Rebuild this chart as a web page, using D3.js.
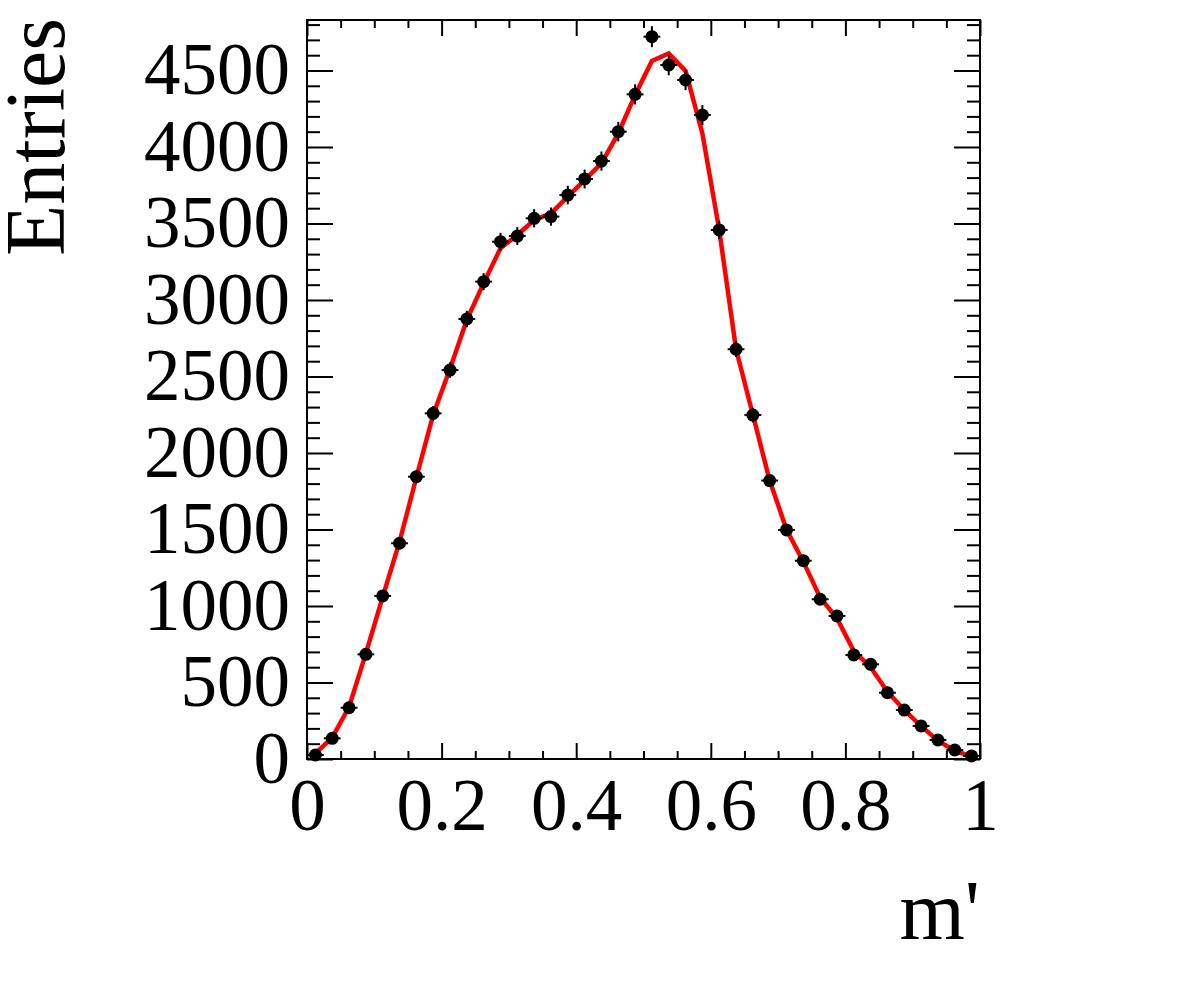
<!DOCTYPE html>
<meta charset="utf-8">
<style>
body { margin: 0; background: #fff; }
svg { display: block; }
.axis text { font-family: "Liberation Serif", "Times New Roman", serif; font-size: 73px; fill: #000; }
.axis line { stroke: #000; stroke-width: 2; }
.axis path { display: none; }
.title { font-family: "Liberation Serif", "Times New Roman", serif; font-size: 84px; fill: #000; }
</style>
<body></body>
<script src="https://cdn.jsdelivr.net/npm/d3@7"></script>
<script>

// histogram: 40 bins of m' in [0,1]
var binWidth = 0.025;
var counts = [26, 135, 335, 684, 1066, 1410, 1845, 2259, 2542, 2876,
              3120, 3381, 3418, 3534, 3545, 3686, 3791, 3908, 4100, 4344,
              4721, 4536, 4438, 4209, 3458, 2678, 2248, 1820, 1497, 1296,
              1044, 935, 680, 619, 433, 320, 216, 124, 59, 20];
// fitted model (red curve), one value per bin
var model = [37, 140, 340, 690, 1060, 1420, 1840, 2250, 2550, 2870,
             3110, 3338, 3425, 3523, 3567, 3675, 3784, 3893, 4089, 4340,
             4562, 4612, 4497, 4089, 3458, 2680, 2250, 1820, 1500, 1290,
             1055, 920, 705, 600, 440, 320, 215, 120, 55, 15];
var xTicks = [0, 0.2, 0.4, 0.6, 0.8, 1];
var yTicks = [0, 500, 1000, 1500, 2000, 2500, 3000, 3500, 4000, 4500];

var W = 1182, H = 986;
var frame = {left: 307, right: 980, top: 20, bottom: 759};

var svg = d3.select("body").append("svg")
    .attr("width", W)
    .attr("height", H);

svg.append("rect").attr("width", W).attr("height", H).attr("fill", "#fff");

var x = d3.scaleLinear().domain([0, 1]).range([frame.left, frame.right]);
var y = d3.scaleLinear().domain([0, 4830]).range([frame.bottom, frame.top]);

var xMinor = d3.range(0, 1.0001, 0.05).filter(function(v) { return Math.abs(v * 5 - Math.round(v * 5)) > 1e-6; });
var yMinor = d3.range(0, 4801, 100).filter(function(v) { return v % 500 !== 0; });

// minor ticks (all four sides)
svg.append("g").attr("class", "axis")
    .attr("transform", "translate(0," + frame.bottom + ")")
    .call(d3.axisBottom(x).tickValues(xMinor).tickSize(-8).tickSizeOuter(0).tickFormat(""));
svg.append("g").attr("class", "axis")
    .attr("transform", "translate(0," + frame.top + ")")
    .call(d3.axisTop(x).tickValues(xMinor).tickSize(-8).tickSizeOuter(0).tickFormat(""));
svg.append("g").attr("class", "axis")
    .attr("transform", "translate(" + frame.left + ",0)")
    .call(d3.axisLeft(y).tickValues(yMinor).tickSize(-13).tickSizeOuter(0).tickFormat(""));
svg.append("g").attr("class", "axis")
    .attr("transform", "translate(" + frame.right + ",0)")
    .call(d3.axisRight(y).tickValues(yMinor).tickSize(-13).tickSizeOuter(0).tickFormat(""));

// major ticks with labels
svg.append("g").attr("class", "axis")
    .attr("transform", "translate(0," + frame.bottom + ")")
    .call(d3.axisBottom(x).tickValues(xTicks).tickSize(-16).tickSizeOuter(0).tickPadding(19)
      .tickFormat(function(d) { return d === 0 || d === 1 ? d3.format("d")(d) : d3.format(".1f")(d); }));
svg.append("g").attr("class", "axis")
    .attr("transform", "translate(0," + frame.top + ")")
    .call(d3.axisTop(x).tickValues(xTicks).tickSize(-16).tickSizeOuter(0).tickFormat(""));
svg.append("g").attr("class", "axis")
    .attr("transform", "translate(" + frame.left + ",0)")
    .call(d3.axisLeft(y).tickValues(yTicks).tickSize(-26).tickSizeOuter(0).tickPadding(17)
      .tickFormat(d3.format("d")));
svg.append("g").attr("class", "axis")
    .attr("transform", "translate(" + frame.right + ",0)")
    .call(d3.axisRight(y).tickValues(yTicks).tickSize(-26).tickSizeOuter(0).tickFormat(""));

// frame
svg.append("rect")
    .attr("x", frame.left)
    .attr("y", frame.top)
    .attr("width", frame.right - frame.left)
    .attr("height", frame.bottom - frame.top)
    .attr("fill", "none")
    .attr("stroke", "#000")
    .attr("stroke-width", 2);

function center(i) { return (i + 0.5) * binWidth; }

// fit curve
var line = d3.line()
    .x(function(d, i) { return x(center(i)); })
    .y(function(d) { return y(d); });

svg.append("path")
    .datum(model)
    .attr("d", line)
    .attr("fill", "none")
    .attr("stroke", "#ff0000")
    .attr("stroke-width", 4.5)
    .attr("stroke-linejoin", "miter");

// data points with error bars
var pts = svg.append("g").selectAll("g")
    .data(counts)
    .enter().append("g");

pts.append("line")
    .attr("x1", function(d, i) { return x(center(i)); })
    .attr("x2", function(d, i) { return x(center(i)); })
    .attr("y1", function(d) { return y(d + Math.sqrt(d)); })
    .attr("y2", function(d) { return y(d - Math.sqrt(d)); })
    .attr("stroke", "#000")
    .attr("stroke-width", 2);

pts.append("line")
    .attr("x1", function(d, i) { return x(center(i) - binWidth / 2); })
    .attr("x2", function(d, i) { return x(center(i) + binWidth / 2); })
    .attr("y1", function(d) { return y(d); })
    .attr("y2", function(d) { return y(d); })
    .attr("stroke", "#000")
    .attr("stroke-width", 2);

pts.append("circle")
    .attr("cx", function(d, i) { return x(center(i)); })
    .attr("cy", function(d) { return y(d); })
    .attr("r", 6.5)
    .attr("fill", "#000");

// axis titles
svg.append("text")
    .attr("class", "title")
    .attr("text-anchor", "end")
    .attr("transform", "translate(64,18) rotate(-90)")
    .text("Entries");

svg.append("text")
    .attr("class", "title")
    .attr("text-anchor", "end")
    .attr("x", 980)
    .attr("y", 939)
    .text("m'");

</script>
